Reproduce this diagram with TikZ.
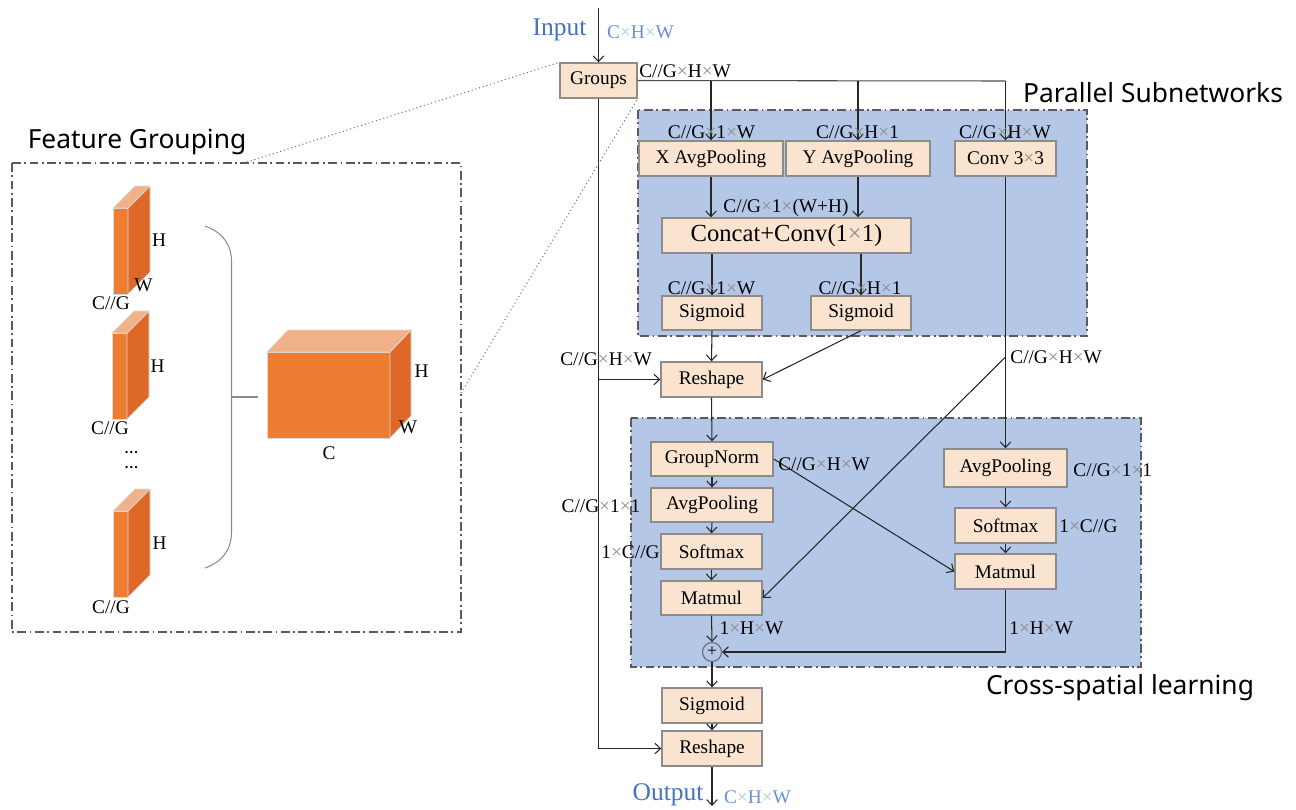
\documentclass[tikz,border=0pt]{standalone}
\usepackage{fontspec}
\setmainfont{Liberation Serif}
\newfontfamily\headfont{Noto Sans}
\usetikzlibrary{arrows.meta}

\definecolor{opfill}{RGB}{251,228,207}
\definecolor{opline}{RGB}{140,140,140}
\definecolor{panelblue}{RGB}{180,199,231}
\definecolor{ioblue}{RGB}{68,114,196}
\definecolor{iodim}{RGB}{100,145,210}
\definecolor{cubefront}{RGB}{237,125,49}
\definecolor{cubeside}{RGB}{222,104,40}
\definecolor{cubetop}{RGB}{241,177,136}
\definecolor{frameline}{RGB}{90,90,90}

% thin grey multiplication sign used in the tensor shapes
\newcommand{\tms}{{\color{black!45}×}}

\tikzset{
  op/.style={draw=opline, fill=opfill, line width=0.8pt, inner sep=0pt,
             font=\fontsize{11}{13}\selectfont},
  sz/.style 2 args={minimum width=#1*0.02cm, minimum height=#2*0.02cm},
  dim/.style={inner sep=0pt, font=\fontsize{11}{13}\selectfont},
  arr/.style={draw=black!85, line width=0.6pt, -{Straight Barb[length=3.2pt,width=6pt]}},
  link/.style={draw=black!70, line width=0.6pt},
  panel/.style={fill=panelblue, draw=frameline, line width=0.7pt,
                dash pattern=on 5pt off 2pt on 1pt off 2pt},
  frame/.style={draw=frameline, line width=0.7pt,
                dash pattern=on 5pt off 2pt on 1pt off 2pt},
  zoomline/.style={draw=black!55, line width=0.6pt, dash pattern=on 0.6pt off 1.6pt},
  head/.style={inner sep=0pt, font=\headfont\fontsize{15}{18}\selectfont},
  io/.style={inner sep=0pt, text=ioblue, font=\fontsize{14.5}{17}\selectfont},
  iodimlabel/.style={inner sep=0pt, text=iodim, font=\fontsize{11}{13}\selectfont},
  cubeedge/.style={draw=white!70!gray, line width=0.4pt},
  % one thin feature slab: front face 15 x 86, depth offset 22
  slab/.pic={
    \path[fill=cubefront, cubeedge] (0,0) rectangle (15,86);
    \path[fill=cubeside, cubeedge] (15,0) -- (37,-22) -- (37,64) -- (15,86) -- cycle;
    \path[fill=cubetop, cubeedge] (0,0) -- (22,-22) -- (37,-22) -- (15,0) -- cycle;
  }
}

\begin{document}
\begin{tikzpicture}[x=0.02cm, y=-0.02cm]
\useasboundingbox (0,0) rectangle (1296,809);

% ---------- background panels ----------
\path[panel] (638,110) rectangle (1087,336);
\path[panel] (631,418) rectangle (1141,667);
\path[frame] (12,163) rectangle (461,632);

% ---------- titles ----------
\node[head] (tpar) at (1153,93) {Parallel Subnetworks};
\node[head] (tcross) at (1120,688) {Cross-spatial learning};
\node[head] (tfeat) at (137,142) {Feature Grouping};

% ---------- feature grouping sketch ----------
\pic at (113,208) {slab};
\pic at (112,333) {slab};
\pic at (113,511) {slab};
\node[dim] (h1) at (159,240) {H};
\node[dim] (w1) at (143.5,285) {W};
\node[dim] (c1) at (111,303) {C//G};
\node[dim] (h2) at (157.5,366) {H};
\node[dim] (c2) at (110,428) {C//G};
\node[dim] (h3) at (159.5,543) {H};
\node[dim] (c3) at (111,607) {C//G};
\node[inner sep=0pt, align=center, font=\fontsize{8}{8.5}\selectfont\bfseries] (dots) at (131.5,460) {…\\…};

% bracket joining the groups
\draw[draw=black!45, line width=0.6pt]
  (205,226) .. controls (222,232) and (231.5,244) .. (231.5,262)
  -- (231.5,532) .. controls (231.5,550) and (222,562) .. (205,568);
\draw[draw=black!45, line width=0.6pt] (231.5,397) -- (258,397);

% full feature map
\path[fill=cubefront, cubeedge] (267,352) rectangle (390,438);
\path[fill=cubeside, cubeedge] (390,352) -- (411,330) -- (411,416) -- (390,438) -- cycle;
\path[fill=cubetop, cubeedge] (267,352) -- (288,330) -- (411,330) -- (390,352) -- cycle;
\node[dim] (hb) at (421.5,371) {H};
\node[dim] (wb) at (408,427) {W};
\node[dim] (cb) at (329,453) {C};

% ---------- operator boxes ----------
\node[op, sz={77}{35}] (groups) at (598.5,80.5) {Groups};
\node[op, sz={144}{35}] (xavg) at (711,158.5) {X AvgPooling};
\node[op, sz={144}{35}] (yavg) at (858,158.5) {Y AvgPooling};
\node[op, sz={101}{35}] (conv) at (1005.5,158.5) {Conv 3\tms3};
\node[op, sz={249}{35}, font=\fontsize{14}{16}\selectfont] (concat) at (786.5,235.5) {Concat+Conv(1\tms1)};
\node[op, sz={100}{34}] (sig1) at (712,313) {Sigmoid};
\node[op, sz={100}{34}] (sig2) at (861,313) {Sigmoid};
\node[op, sz={101}{35}] (resh1) at (711.5,379.5) {Reshape};
\node[op, sz={122}{34}] (gnorm) at (712,459) {GroupNorm};
\node[op, sz={122}{34}] (avgl) at (712,505) {AvgPooling};
\node[op, sz={101}{35}] (softl) at (711.5,551.5) {Softmax};
\node[op, sz={101}{34}] (matl) at (711.5,598) {Matmul};
\node[op, sz={123}{38}] (avgr) at (1005.5,468) {AvgPooling};
\node[op, sz={101}{35}] (softr) at (1005.5,525.5) {Softmax};
\node[op, sz={101}{35}] (matr) at (1005.5,571.5) {Matmul};
\node[draw=black!60, line width=0.6pt, circle, minimum size=19*0.02cm, inner sep=0pt,
      font=\fontsize{10}{10}\selectfont] (plus) at (712,652) {+};
\node[op, sz={100}{35}] (sig3) at (712,705.5) {Sigmoid};
\node[op, sz={100}{35}] (resh2) at (712,748.5) {Reshape};

% ---------- input / output ----------
\node[io] (inlab) at (559.5,30) {Input};
\node[iodimlabel] (indim) at (640.5,32) {C{\color{iodim!50}×}H{\color{iodim!50}×}W};
\node[io] (outlab) at (668,795) {Output};
\node[iodimlabel] (outdim) at (757.5,797) {C{\color{iodim!50}×}H{\color{iodim!50}×}W};
\coordinate (in) at (598.5,8);
\coordinate (out) at (712,806);

% ---------- connectors ----------
\draw[arr] (in) -- (groups.north);
\coordinate (tx) at (711,81);
\coordinate (ty) at (858,81);
\coordinate (tc) at (1005.5,81);
\draw[link] (groups.east) -- (tc);
\draw[arr] (tx) -- (xavg.north);
\draw[arr] (ty) -- (yavg.north);
\draw[arr] (tc) -- (conv.north);

\draw[arr] (xavg.south) -- (xavg.south |- concat.north);
\draw[arr] (yavg.south) -- (yavg.south |- concat.north);
\draw[arr] (sig1.north |- concat.south) -- (sig1.north);
\draw[arr] (sig2.north |- concat.south) -- (sig2.north);
\draw[arr] (sig1.south) -- (resh1.north);
\draw[arr] (sig2.south) -- (resh1.east);

% identity path of the group
\draw[arr] (groups.south) |- (resh2.west);
\draw[arr] (groups.south |- resh1.west) -- (resh1.west);

% 3x3 branch
\coordinate (cj) at (1005.5,357);
\draw[arr] (conv.south) -- (avgr.north);
\draw[arr] (cj) -- (matl.east);

% cross-spatial learning
\draw[arr] (resh1.south) -- (gnorm.north);
\draw[arr] (gnorm.south) -- (avgl.north);
\draw[arr] (avgl.south) -- (softl.north);
\draw[arr] (softl.south) -- (matl.north);
\draw[arr] (matl.south) -- (plus.north);
\draw[arr] (gnorm.east) -- (matr.west);
\draw[arr] (avgr.south) -- (softr.north);
\draw[arr] (softr.south) -- (matr.north);
\draw[arr] (matr.south) |- (plus.east);
\draw[arr] (plus.south) -- (sig3.north);
\draw[arr] (sig3.south) -- (resh2.north);
\draw[arr] (resh2.south) -- (out);

% zoom guides to the grouping sketch
\draw[zoomline] (247,162) -- (groups.north west);
\draw[zoomline] (461,393) -- (groups.south east);

% ---------- tensor shapes ----------
\node[dim, anchor=west] (d0) at (639,71) {C//G\tms H\tms W};
\node[dim] (d1) at (711.5,132) {C//G\tms1\tms W};
\node[dim] (d2) at (857.5,132) {C//G\tms H\tms1};
\node[dim] (d3) at (1005,132) {C//G\tms H\tms W};
\node[dim] (d4) at (786,208) {C//G\tms1\tms(W+H)};
\node[dim] (d5) at (711.5,288) {C//G\tms1\tms W};
\node[dim] (d6) at (860,288) {C//G\tms H\tms1};
\node[dim, anchor=west] (d7) at (560,359) {C//G\tms H\tms W};
\node[dim, anchor=west] (d8) at (1010,357) {C//G\tms H\tms W};
\node[dim, anchor=west] (d9) at (778,464) {C//G\tms H\tms W};
\node[dim] (d10) at (601,506) {C//G\tms1\tms1};
\node[dim] (d11) at (630.5,552) {1\tms C//G};
\node[dim] (d12) at (751.5,628) {1\tms H\tms W};
\node[dim, anchor=west] (d13) at (1073,470) {C//G\tms1\tms1};
\node[dim, anchor=west] (d14) at (1059,526) {1\tms C//G};
\node[dim, anchor=west] (d15) at (1009,628) {1\tms H\tms W};
\end{tikzpicture}
\end{document}
